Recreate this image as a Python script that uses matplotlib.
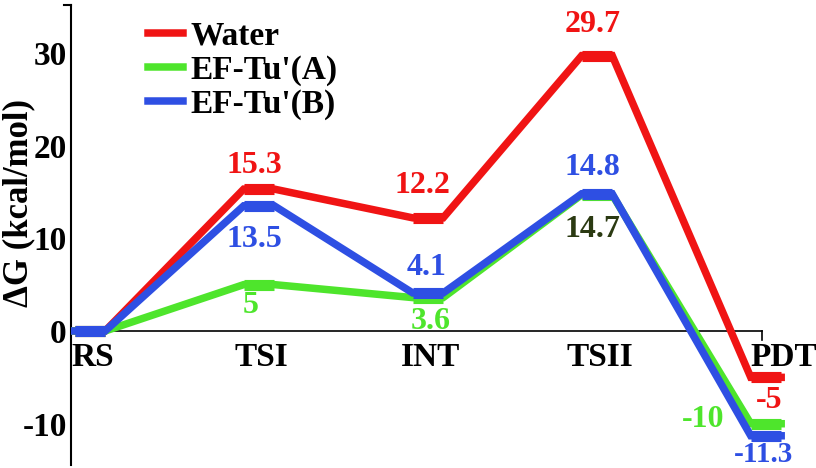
import numpy as np
import matplotlib
matplotlib.use("Agg")
import matplotlib.pyplot as plt

plt.rcParams['font.family'] = ['Liberation Serif', 'DejaVu Serif']
plt.rcParams['font.weight'] = 'bold'

states = ['RS', 'TSI', 'INT', 'TSII', 'PDT']
water = [0, 15.3, 12.2, 29.7, -5]
ef_a = [0, 5, 3.6, 14.7, -10]
ef_b = [0, 13.5, 4.1, 14.8, -11.3]
series_names = ["Water", "EF-Tu'(A)", "EF-Tu'(B)"]
yticks = [-10, 0, 10, 20, 30]

red = '#f01414'
green = '#4ee52c'
blue = '#2e4fe3'
dark = '#2b3a12'

# label offsets (points) for each value, per series
water_off = [None, (-3, 17), (-4, 23), (-3, 22), (2, -17)]
a_off = [None, (-6, -15), (2, -17), (-3, -25), (-45, 3)]
b_off = [None, (-3, -24), (-1, 18), (-3, 19), (-2, -19)]
a_colors = [None, green, green, dark, green]

fig = plt.figure(figsize=(8.16, 4.68), dpi=100)
ax = fig.add_axes([71 / 816, 3 / 468, 745 / 816, 460 / 468])

x = np.arange(len(states))
hw = 0.09
x0, x1 = -0.112, 4.296
ax.set_xlim(x0, x1)
ax.set_ylim(-14.45, 35.15)


def profile(vals, color, z):
    px, py = [], []
    for xi, v in zip(x, vals):
        px += [xi - hw, xi + hw]
        py += [v, v]
    ax.plot(px, py, color=color, lw=5.4, solid_joinstyle='miter', zorder=z)
    ax.hlines(vals, x - hw, x + hw, color=color, lw=8, zorder=z)


profile(water, red, 3)
profile(ef_a, green, 4)
profile(ef_b, blue, 5)

fs_val = 23
for i in range(1, len(states)):
    ax.annotate(f"{water[i]:g}", (x[i], water[i]), xytext=water_off[i],
                textcoords='offset points', ha='center', va='center',
                color=red, fontsize=fs_val)
    ax.annotate(f"{ef_a[i]:g}", (x[i], ef_a[i]), xytext=a_off[i],
                textcoords='offset points', ha='center', va='center',
                color=a_colors[i], fontsize=fs_val)
    last = i == len(states) - 1
    ax.annotate(f"{ef_b[i]:g}", (x[i], ef_b[i]), xytext=b_off[i],
                textcoords='offset points', ha='center',
                va='baseline' if last else 'center',
                color=blue, fontsize=21 if last else fs_val)

# state names under the zero line
for i, s in enumerate(states):
    if i == len(states) - 1:
        ax.annotate(s, (x[i] - hw, 0), xytext=(0, -8), textcoords='offset points',
                    ha='left', va='top', fontsize=24)
    else:
        ax.annotate(s, (x[i], 0), xytext=(2, -8), textcoords='offset points',
                    ha='center', va='top', fontsize=24)

ax.spines['top'].set_visible(False)
ax.spines['right'].set_visible(False)
ax.spines['bottom'].set_position(('data', 0))
ax.spines['bottom'].set_bounds(x0, 3.976)
ax.spines['left'].set_linewidth(1.5)
ax.spines['bottom'].set_linewidth(1.2)
ax.set_xticks([])
ax.set_yticks(yticks)
ax.set_yticklabels([str(t) for t in yticks], fontsize=24)
ax.tick_params(axis='y', length=0, pad=3)

# end caps of the axes
ax.plot([x0 - 0.041, x0], [35.15, 35.15], color='black', lw=1.5, clip_on=False)
ax.plot([3.976, 3.976], [0, -1.0], color='black', lw=1.2, clip_on=False)

fig.text(19 / 816, 1 - 203 / 468, 'ΔG (kcal/mol)', rotation=90,
         ha='center', va='center', fontsize=25)

handles = [plt.Line2D([], [], color=c, lw=5.4) for c in (red, green, blue)]
ax.legend(handles, series_names, loc='upper left', bbox_to_anchor=(0.103, 0.967),
          frameon=False, fontsize=24, borderpad=0, borderaxespad=0,
          handlelength=1.05, handletextpad=0.22, labelspacing=0.1)

fig.savefig('out.png', dpi=100)
